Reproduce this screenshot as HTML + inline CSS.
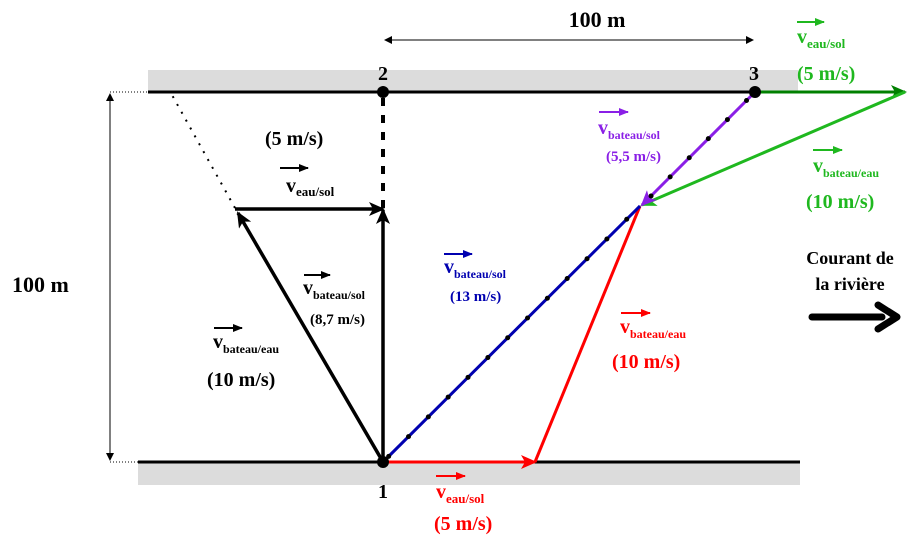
<!DOCTYPE html>
<html><head><meta charset="utf-8"><style>
html,body{margin:0;padding:0;background:#fff;}
svg{display:block;font-family:"Liberation Serif",serif;font-weight:bold;}
</style></head><body>
<svg width="924" height="545" viewBox="0 0 924 545" xmlns="http://www.w3.org/2000/svg">
<defs>
<marker id="ak" markerWidth="8" markerHeight="8" refX="7" refY="4" orient="auto-start-reverse" markerUnits="userSpaceOnUse"><path d="M0,0 L8,4 L0,8 z" fill="#000"/></marker>
<marker id="bk" markerWidth="16" markerHeight="14" refX="14" refY="7" orient="auto" markerUnits="userSpaceOnUse"><path d="M0,0 L16,7 L0,14 L4,7 z" fill="#000"/></marker>
<marker id="rd" markerWidth="16" markerHeight="14" refX="14" refY="7" orient="auto" markerUnits="userSpaceOnUse"><path d="M0,0 L16,7 L0,14 L4,7 z" fill="#f00"/></marker>
<marker id="gd" markerWidth="16" markerHeight="14" refX="14" refY="7" orient="auto" markerUnits="userSpaceOnUse"><path d="M0,0 L16,7 L0,14 L4,7 z" fill="#008000"/></marker>
<marker id="gl" markerWidth="16" markerHeight="14" refX="14" refY="7" orient="auto" markerUnits="userSpaceOnUse"><path d="M0,0 L16,7 L0,14 L4,7 z" fill="#1fb81f"/></marker>
<marker id="pu" markerWidth="16" markerHeight="14" refX="14" refY="7" orient="auto" markerUnits="userSpaceOnUse"><path d="M0,0 L16,7 L0,14 L4,7 z" fill="#8a1fe6"/></marker>
<marker id="sa" markerWidth="10" markerHeight="8" refX="9" refY="4" orient="auto" markerUnits="userSpaceOnUse"><path d="M0,0 L10,4 L0,8 z" fill="context-stroke"/></marker>
</defs>
<rect x="148" y="70" width="650" height="22" fill="#dcdcdc"/>
<rect x="138" y="462" width="662" height="23" fill="#dcdcdc"/>
<line x1="148" y1="92" x2="755" y2="92" stroke="#000" stroke-width="3"/>
<line x1="138" y1="462" x2="800" y2="462" stroke="#000" stroke-width="3"/>
<line x1="385" y1="40" x2="753" y2="40" stroke="#000" stroke-width="1" marker-end="url(#ak)" marker-start="url(#ak)"/>
<line x1="110" y1="94" x2="110" y2="460" stroke="#000" stroke-width="1" marker-end="url(#ak)" marker-start="url(#ak)"/>
<line x1="110" y1="92" x2="148" y2="92" stroke="#000" stroke-width="1" stroke-dasharray="1,2"/>
<line x1="110" y1="462" x2="138" y2="462" stroke="#000" stroke-width="1" stroke-dasharray="1,2"/>
<text x="597" y="27" font-size="22" text-anchor="middle">100 m</text>
<text x="12" y="292" font-size="22">100 m</text>
<line x1="235" y1="208" x2="172" y2="95" stroke="#000" stroke-width="2" stroke-dasharray="2,7"/>
<line x1="383" y1="208" x2="383" y2="96" stroke="#000" stroke-width="4" stroke-dasharray="8,9"/>
<line x1="383" y1="462" x2="238" y2="213" stroke="#000" stroke-width="3.5" marker-end="url(#bk)"/>
<line x1="235" y1="209" x2="383" y2="209" stroke="#000" stroke-width="3.5" marker-end="url(#bk)"/>
<line x1="383" y1="462" x2="383" y2="210" stroke="#000" stroke-width="3.5" marker-end="url(#bk)"/>
<line x1="535" y1="462" x2="640" y2="206" stroke="#f00" stroke-width="3"/>
<line x1="383" y1="462" x2="535" y2="462" stroke="#f00" stroke-width="3" marker-end="url(#rd)"/>
<line x1="383" y1="462" x2="640" y2="206" stroke="#0000b0" stroke-width="3"/>
<line x1="383" y1="462" x2="640" y2="206" stroke="#000" stroke-width="5" stroke-linecap="round" stroke-dasharray="0,28" stroke-dashoffset="-8"/>
<line x1="755" y1="92" x2="905" y2="92" stroke="#008000" stroke-width="3" marker-end="url(#gd)"/>
<line x1="905" y1="92" x2="642" y2="205" stroke="#1fb81f" stroke-width="3" marker-end="url(#gl)"/>
<line x1="755" y1="92" x2="642" y2="205" stroke="#8a1fe6" stroke-width="3" marker-end="url(#pu)"/>
<line x1="755" y1="92" x2="642" y2="205" stroke="#000" stroke-width="5" stroke-linecap="round" stroke-dasharray="0,27" stroke-dashoffset="-12"/>
<circle cx="383" cy="92" r="6" fill="#000"/>
<circle cx="755" cy="92" r="6" fill="#000"/>
<circle cx="383" cy="462" r="6" fill="#000"/>
<text x="383" y="80" font-size="20" text-anchor="middle">2</text>
<text x="754" y="80" font-size="20" text-anchor="middle">3</text>
<text x="383" y="498" font-size="20" text-anchor="middle">1</text>
<text x="265" y="145" font-size="20">(5 m/s)</text>
<line x1="280" y1="168" x2="308" y2="168" stroke="#000" stroke-width="2" marker-end="url(#sa)"/>
<text x="286" y="192" font-size="20">v<tspan font-size="13" dy="4">eau/sol</tspan></text>
<line x1="304" y1="275" x2="330" y2="275" stroke="#000" stroke-width="2" marker-end="url(#sa)"/>
<text x="303" y="294" font-size="20">v<tspan font-size="12" dy="5">bateau/sol</tspan></text>
<text x="310" y="324" font-size="15">(8,7 m/s)</text>
<line x1="214" y1="328" x2="242" y2="328" stroke="#000" stroke-width="2" marker-end="url(#sa)"/>
<text x="213" y="348" font-size="20">v<tspan font-size="12" dy="5">bateau/eau</tspan></text>
<text x="207" y="386" font-size="20">(10 m/s)</text>
<line x1="444" y1="254" x2="472" y2="254" stroke="#0000b0" stroke-width="2" marker-end="url(#sa)"/>
<text x="444" y="273" font-size="20" fill="#0000b0">v<tspan font-size="12" dy="5">bateau/sol</tspan></text>
<text x="450" y="301" font-size="15" fill="#0000b0">(13 m/s)</text>
<line x1="599" y1="112" x2="628" y2="112" stroke="#8a1fe6" stroke-width="2" marker-end="url(#sa)"/>
<text x="598" y="134" font-size="20" fill="#8a1fe6">v<tspan font-size="12" dy="5">bateau/sol</tspan></text>
<text x="606" y="161" font-size="15" fill="#8a1fe6">(5,5 m/s)</text>
<line x1="797" y1="22" x2="824" y2="22" stroke="#1fb81f" stroke-width="2" marker-end="url(#sa)"/>
<text x="797" y="43" font-size="20" fill="#1fb81f">v<tspan font-size="13" dy="5">eau/sol</tspan></text>
<text x="797" y="80" font-size="20" fill="#1fb81f">(5 m/s)</text>
<line x1="813" y1="150" x2="842" y2="150" stroke="#1fb81f" stroke-width="2" marker-end="url(#sa)"/>
<text x="813" y="172" font-size="20" fill="#1fb81f">v<tspan font-size="12" dy="5">bateau/eau</tspan></text>
<text x="806" y="208" font-size="20" fill="#1fb81f">(10 m/s)</text>
<line x1="621" y1="313" x2="650" y2="313" stroke="#f00" stroke-width="2" marker-end="url(#sa)"/>
<text x="620" y="333" font-size="20" fill="#f00">v<tspan font-size="12" dy="5">bateau/eau</tspan></text>
<text x="612" y="368" font-size="20" fill="#f00">(10 m/s)</text>
<line x1="436" y1="476" x2="465" y2="476" stroke="#f00" stroke-width="2" marker-end="url(#sa)"/>
<text x="436" y="498" font-size="20" fill="#f00">v<tspan font-size="13" dy="5">eau/sol</tspan></text>
<text x="434" y="530" font-size="20" fill="#f00">(5 m/s)</text>
<text x="850" y="264" font-size="18" text-anchor="middle">Courant de</text>
<text x="850" y="290" font-size="18" text-anchor="middle">la rivière</text>
<line x1="812" y1="317" x2="882" y2="317" stroke="#000" stroke-width="7" stroke-linecap="round"/>
<path d="M878,305 L897,317 L878,329" fill="none" stroke="#000" stroke-width="7" stroke-linecap="round" stroke-linejoin="round"/>
</svg>
</body></html>
